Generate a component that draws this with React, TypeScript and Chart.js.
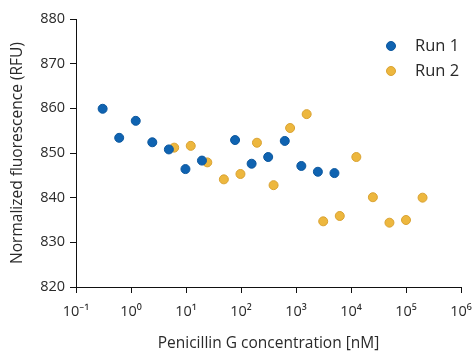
import React, { useEffect, useRef } from "react";
import { Chart, registerables } from "chart.js";

Chart.register(...registerables);

const run1X = [0.305, 0.61, 1.22, 2.44, 4.88, 9.77, 19.5, 78, 156, 312, 625, 1250, 2500, 5000];
const run1Y = [859.9, 853.4, 857.2, 852.4, 850.8, 846.4, 848.3, 852.9, 847.6, 849.1, 852.7, 847.1, 845.8, 845.5];

const run2X = [6.1, 12.2, 24.4, 48.8, 97.7, 195, 391, 781, 1563, 3125, 6250, 12500, 25000, 50000, 100000, 200000];
const run2Y = [851.2, 851.6, 847.9, 844.1, 845.3, 852.3, 842.8, 855.6, 858.7, 834.7, 835.9, 849.1, 840.1, 834.4, 835.0, 840.0];

const seriesLabels = ["Run 1", "Run 2"];
const fillColors = ["#0F63B1", "#EDB73E"];
const borderColors = ["#0B579E", "#D9A232"];

const xExponents = [-1, 0, 1, 2, 3, 4, 5, 6];
const supMap: Record<string, string> = {
  "-": "\u207B", "0": "\u2070", "1": "\u00B9", "2": "\u00B2", "3": "\u00B3",
  "4": "\u2074", "5": "\u2075", "6": "\u2076", "7": "\u2077", "8": "\u2078", "9": "\u2079",
};
const sup = (n: number) => String(n).split("").map((c) => supMap[c] || c).join("");

const FONT = "'Open Sans', 'Noto Sans', sans-serif";
const TEXT = "#2a2a2a";

const legendPlugin = {
  id: "insideLegend",
  afterDraw(chart: any) {
    const { ctx, chartArea } = chart;
    ctx.save();
    chart.data.datasets.forEach((ds: any, i: number) => {
      const cx = chartArea.right - 70;
      const cy = chartArea.top + 27 + i * 25;
      ctx.beginPath();
      ctx.arc(cx, cy, 4.5, 0, Math.PI * 2);
      ctx.fillStyle = ds.backgroundColor;
      ctx.fill();
      ctx.lineWidth = 1;
      ctx.strokeStyle = ds.borderColor;
      ctx.stroke();
      ctx.fillStyle = TEXT;
      ctx.font = `16.5px ${FONT}`;
      ctx.textBaseline = "middle";
      ctx.textAlign = "left";
      ctx.fillText(ds.label, cx + 24, cy + 0.5);
    });
    ctx.restore();
  },
};

export default function App() {
  const ref = useRef<HTMLCanvasElement>(null);
  useEffect(() => {
    if (!ref.current) return;
    const mk = (xs: number[], ys: number[]) => xs.map((x, i) => ({ x, y: ys[i] }));
    const chart = new Chart(ref.current, {
      type: "scatter",
      data: {
        datasets: [
          {
            label: seriesLabels[0],
            data: mk(run1X, run1Y),
            backgroundColor: fillColors[0],
            borderColor: borderColors[0],
            borderWidth: 1,
            pointRadius: 4.5,
          },
          {
            label: seriesLabels[1],
            data: mk(run2X, run2Y),
            backgroundColor: fillColors[1],
            borderColor: borderColors[1],
            borderWidth: 1,
            pointRadius: 4.5,
          },
        ],
      },
      options: {
        animation: false,
        responsive: true,
        maintainAspectRatio: false,
        layout: { padding: { left: 0, top: 19, right: 13, bottom: 0 } },
        plugins: { legend: { display: false }, tooltip: { enabled: false } },
        scales: {
          x: {
            type: "logarithmic",
            min: 0.1,
            max: 1e6,
            afterBuildTicks: (scale: any) => {
              scale.ticks = xExponents.map((e) => ({ value: Math.pow(10, e) }));
            },
            afterFit: (scale: any) => {
              scale.height = 66;
              scale.paddingLeft = 0;
              scale.paddingRight = 0;
            },
            ticks: {
              autoSkip: false,
              maxRotation: 0,
              padding: 10,
              color: TEXT,
              font: { family: FONT, size: 14.5 },
              callback: (v: any) => "10" + sup(Math.round(Math.log10(Number(v)))),
            },
            grid: { drawOnChartArea: false, drawTicks: true, tickLength: 6, color: "#111" },
            border: { display: true, color: "#111", width: 1 },
            title: {
              display: true,
              text: "Penicillin G concentration [nM]",
              color: TEXT,
              font: { family: FONT, size: 15.5 },
              padding: { top: 0, bottom: 0 },
            },
          },
          y: {
            min: 820,
            max: 880,
            afterFit: (scale: any) => {
              scale.width = 76;
              scale.paddingTop = 0;
              scale.paddingBottom = 0;
            },
            ticks: {
              stepSize: 10,
              padding: 5,
              color: TEXT,
              font: { family: FONT, size: 14.5 },
            },
            grid: { drawOnChartArea: false, drawTicks: true, tickLength: 6, color: "#111" },
            border: { display: true, color: "#111", width: 1 },
            title: {
              display: true,
              text: "Normalized fluorescence (RFU)",
              color: TEXT,
              font: { family: FONT, size: 15.5 },
              padding: { top: 8, bottom: 0 },
            },
          },
        },
      },
      plugins: [legendPlugin],
    });
    return () => chart.destroy();
  }, []);
  return (
    <div style={{ position: "fixed", left: 0, top: 0, width: 474, height: 353, background: "#fff" }}>
      <canvas ref={ref} />
    </div>
  );
}
